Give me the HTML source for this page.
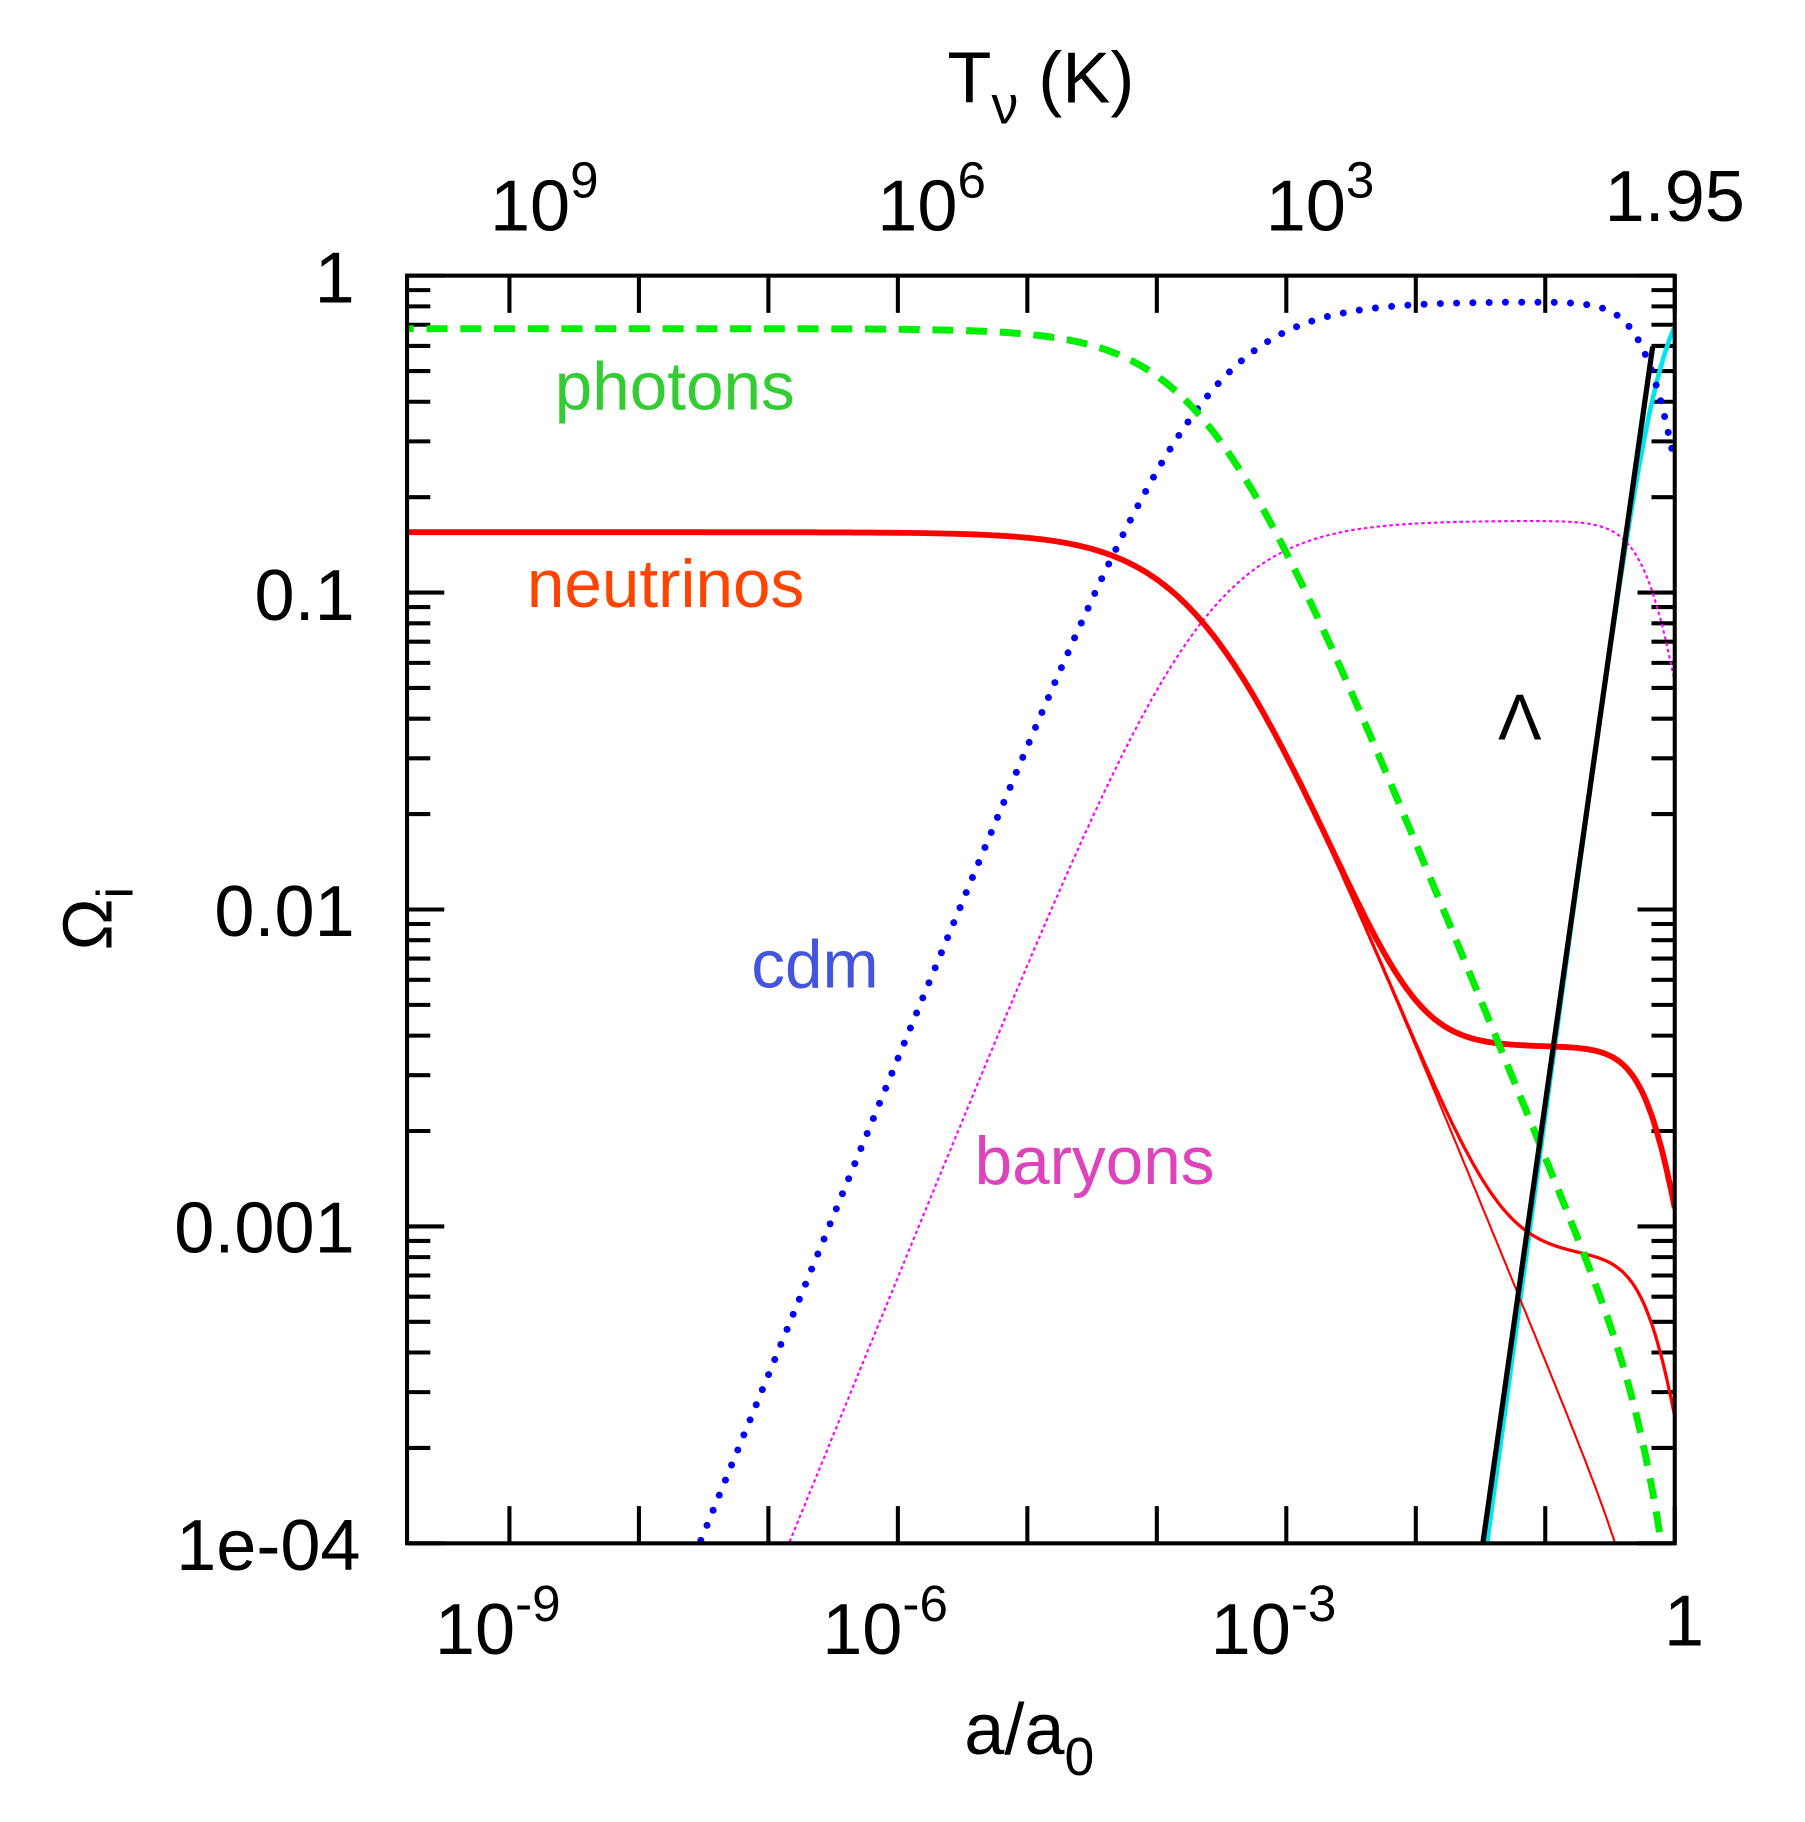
<!DOCTYPE html>
<html><head><meta charset="utf-8"><style>
html,body{margin:0;padding:0;background:#fff;overflow:hidden;width:1805px;height:1822px;}
svg{display:block;}
text{font-family:"Liberation Sans","DejaVu Sans",sans-serif;}
</style></head><body>
<svg id="s" width="1805" height="1822" viewBox="0 0 1552 1566.6" xmlns="http://www.w3.org/2000/svg">
<defs><clipPath id="c"><rect x="350" y="237" width="1090" height="1090"/></clipPath></defs>
<g id="ticks" stroke="#000" stroke-width="3.5"></g>
<g clip-path="url(#c)" fill="none" id="curves"></g>
<rect x="350" y="237" width="1090" height="1090" fill="none" stroke="#000" stroke-width="3.5"/>
<g font-size="62" fill="#000" text-anchor="end">
<text x="305" y="260">1</text>
<text x="305" y="533">0.1</text>
<text x="305" y="805">0.01</text>
<text x="305" y="1077">0.001</text>
<text x="310" y="1350">1e-04</text>
</g>
<g font-size="62" fill="#000" text-anchor="middle">
<text x="428" y="1422">10<tspan font-size="44" dy="-28">-9</tspan></text>
<text x="761" y="1422">10<tspan font-size="44" dy="-28">-6</tspan></text>
<text x="1095" y="1422">10<tspan font-size="44" dy="-28">-3</tspan></text>
<text x="1448" y="1415">1</text>
<text x="468" y="198">10<tspan font-size="44" dy="-28">9</tspan></text>
<text x="801" y="198">10<tspan font-size="44" dy="-28">6</tspan></text>
<text x="1135" y="198">10<tspan font-size="44" dy="-28">3</tspan></text>
<text x="1440" y="190">1.95</text>
<text x="895" y="88">T<tspan font-size="46" dy="18">ν</tspan><tspan dy="-18"> (K)</tspan></text>
<text x="885" y="1508">a/a<tspan font-size="46" dy="18">0</tspan></text>
</g>
<text transform="translate(96,790) rotate(-90)" font-size="60" text-anchor="middle">Ω<tspan font-size="44" dy="18">i</tspan></text>
<g font-size="58">
<text x="477" y="352" fill="#33cc33">photons</text>
<text x="453" y="522" fill="#ff4400">neutrinos</text>
<text x="646" y="849" fill="#4455dd">cdm</text>
<text x="838" y="1018" fill="#dd44bb">baryons</text>
<text x="1288" y="636" fill="#000" font-size="56">Λ</text>
</g>
</svg>
<script>
(function(){
var NS="http://www.w3.org/2000/svg";
function X(la){return 1440+111.33*la;}
function Y(lo){return 237-272.5*lo;}
var tk=document.getElementById('ticks');
function ln(x1,y1,x2,y2){var l=document.createElementNS(NS,'line');l.setAttribute('x1',x1);l.setAttribute('y1',y1);l.setAttribute('x2',x2);l.setAttribute('y2',y2);tk.appendChild(l);}
for(var d=-9;d<=0;d++){var x=X(d);ln(x,1327,x,1295);ln(x,237,x,269);}
for(var d=-4;d<=0;d++){var y=Y(d);ln(350,y,382,y);ln(1440,y,1408,y);
 if(d<0){for(var m=2;m<=9;m++){var yy=Y(d+Math.log10(m));ln(350,yy,370,yy);ln(1440,yy,1420,yy);}}}
var R=7.5e-5,fg=0.68,fn=0.155,fx=1-fg-fn,Oc=0.255,Ob=0.052,OL=0.69;
var Rn=fn*R,anr1=Rn/0.00114,anr2=Rn/0.00025;
function comp(a){
 var rg=fg*R/Math.pow(a,4),rx=fx*R/Math.pow(a,4),rc=Oc/Math.pow(a,3),rb=Ob/Math.pow(a,3);
 var n0=Rn/Math.pow(a,4),n1=n0*Math.sqrt(1+Math.pow(a/anr1,2)),n2=n0*Math.sqrt(1+Math.pow(a/anr2,2));
 var tot=rg+rx+rc+rb+n1+OL;
 return {g:rg/tot,c:rc/tot,b:rb/tot,L:OL/tot,n1:n1/tot,n2:n2/tot*(tot/(tot-n1+n2)),n0:n0/tot*(tot/(tot-n1+n0))};
}
function path(key,st){
 var d="";for(var la=-9.9;la<=0.0001;la+=0.01){var v=comp(Math.pow(10,la))[key];
 d+=(d?"L":"M")+X(la).toFixed(1)+","+Y(Math.log10(v)).toFixed(1);}
 var p=document.createElementNS(NS,'path');p.setAttribute('d',d);
 for(var k in st)p.setAttribute(k,st[k]);document.getElementById('curves').appendChild(p);}
path('L',{stroke:'#00e5ee','stroke-width':4});
path('b',{stroke:'#ff00ff','stroke-width':1.8,'stroke-dasharray':'3 2.5'});
path('c',{stroke:'#0000ff','stroke-width':6,'stroke-dasharray':'0 14','stroke-linecap':'round'});
path('n0',{stroke:'#ff0000','stroke-width':1.8});
path('n2',{stroke:'#ff0000','stroke-width':2.8});
path('n1',{stroke:'#ff0000','stroke-width':5});
path('g',{stroke:'#00ee00','stroke-width':6,'stroke-dasharray':'18 11'});
var bl=document.createElementNS(NS,'line');bl.setAttribute('x1',1275);bl.setAttribute('y1',1327);bl.setAttribute('x2',1421);bl.setAttribute('y2',298);bl.setAttribute('stroke','#000');bl.setAttribute('stroke-width',4.5);bl.setAttribute('clip-path','url(#c)');document.getElementById('s').appendChild(bl);
})();
</script>
</body></html>
